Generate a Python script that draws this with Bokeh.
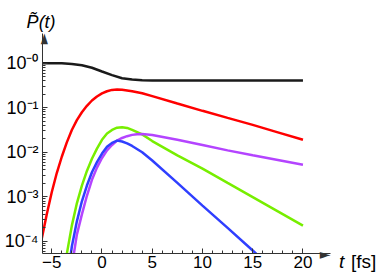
import math
from bokeh.plotting import figure
from bokeh.models import Range1d, FixedTicker, CustomJSTickFormatter, Label
from bokeh.embed import file_html
from bokeh.resources import INLINE

# ---- data (t in fs, P~(t) values) ----
t_black = [-6, -5, -4, -3, -2, -1, 0, 1, 2, 3, 4, 5, 6, 8, 10, 12, 14, 16, 18, 20]
p_black = [1.0, 1.0, 0.99, 0.96, 0.9, 0.79, 0.65, 0.54, 0.46, 0.43, 0.415, 0.41,
           0.41, 0.41, 0.41, 0.41, 0.41, 0.41, 0.41, 0.41]

t_red = [-6, -5.5, -5, -4.5, -4, -3.5, -3, -2.5, -2, -1.5, -1, -0.5, 0, 0.5, 1, 1.5,
         2, 3, 4, 5, 7.5, 10, 12.5, 15, 17.5, 20]
p_red = [1.12e-4, 4.0e-4, 1.26e-3, 3.4e-3, 7.9e-3, 0.0166, 0.0316, 0.0525, 0.079,
         0.11, 0.145, 0.178, 0.209, 0.234, 0.251, 0.257, 0.254, 0.234, 0.211, 0.182,
         0.124, 0.085, 0.059, 0.041, 0.0279, 0.019]

t_green = [-3.6, -3.5, -3, -2.5, -2, -1.5, -1, -0.5, 0, 0.5, 1, 1.5, 2, 2.5, 3, 4, 5,
           7.5, 10, 12.5, 15, 17.5, 20]
p_green = [4.0e-5, 5.2e-5, 2.24e-4, 7.1e-4, 1.78e-3, 3.8e-3, 7.1e-3, 0.012, 0.019,
           0.0263, 0.0316, 0.0355, 0.0363, 0.0351, 0.0316, 0.0251, 0.0178, 8.5e-3,
           4.27e-3, 2.04e-3, 9.8e-4, 4.7e-4, 2.24e-4]

t_blue = [-3.3, -3.1, -3, -2.5, -2, -1.5, -1, -0.5, 0, 0.5, 1, 1.5, 2, 2.5, 3, 4, 5,
          7.5, 10, 12.5, 15, 16]
p_blue = [4.0e-5, 5.2e-5, 7.6e-5, 2.8e-4, 7.9e-4, 1.78e-3, 3.55e-3, 6.0e-3, 9.3e-3,
          0.0132, 0.0162, 0.0182, 0.0174, 0.0158, 0.0138, 0.01, 6.5e-3, 2.04e-3,
          6.3e-4, 2.0e-4, 6.2e-5, 3.8e-5]

t_purple = [-2.9, -2.8, -2.5, -2, -1.5, -1, -0.5, 0, 0.5, 1, 1.5, 2, 2.5, 3, 3.5, 4, 5,
            7.5, 10, 12.5, 15, 17.5, 20]
p_purple = [4.0e-5, 5.2e-5, 1.41e-4, 4.0e-4, 1.05e-3, 2.4e-3, 4.5e-3, 7.4e-3, 0.011,
            0.0145, 0.0182, 0.0209, 0.0229, 0.0245, 0.0254, 0.0257, 0.0243, 0.019,
            0.0145, 0.011, 8.5e-3, 6.7e-3, 5.2e-3]

x_ticks = [-5, 0, 5, 10, 15, 20]
x_minor = list(range(-5, 21))
y_ticks = [1e-4, 1e-3, 1e-2, 1e-1, 1.0]

X0, X1 = -5.92, 22.74
Y0, Y1 = 5.3e-5, 4.64

y_minor = [k * 10.0 ** e for e in range(-5, 0) for k in range(2, 10) if Y0 <= k * 10.0 ** e <= 1.0]

AX = "#333333"
FONT = "Liberation Sans"

p = figure(width=381, height=277, y_axis_type="log",
           x_range=Range1d(X0, X1), y_range=Range1d(Y0, Y1),
           output_backend="svg", toolbar_location=None,
           min_border_left=42, min_border_right=51, min_border_top=33, min_border_bottom=24)
p.title.visible = False
p.xgrid.visible = False
p.ygrid.visible = False
p.outline_line_color = None
p.background_fill_color = "white"
p.border_fill_color = "white"

p.xaxis.ticker = FixedTicker(ticks=x_ticks, minor_ticks=x_minor)
p.yaxis.ticker = FixedTicker(ticks=y_ticks, minor_ticks=y_minor)
p.xaxis.formatter = CustomJSTickFormatter(code="""
return tick < 0 ? "\\u2212" + Math.abs(tick) : String(tick);
""")
p.yaxis.formatter = CustomJSTickFormatter(code="""
const m = {"0":"\\u2070","1":"\\u00b9","2":"\\u00b2","3":"\\u00b3","4":"\\u2074","5":"\\u2075"};
const e = Math.round(Math.log10(tick));
return "10\\u207b" + m[String(Math.abs(e))];
""")

for ax in p.xaxis + p.yaxis:
    ax.major_tick_in = 5
    ax.major_tick_out = 0
    ax.minor_tick_in = 3
    ax.minor_tick_out = 0
    ax.axis_line_color = AX
    ax.major_tick_line_color = AX
    ax.minor_tick_line_color = AX
    ax.major_label_text_font = FONT
    ax.major_label_text_color = "black"
p.xaxis.major_label_text_font_size = "17px"
p.yaxis.major_label_text_font_size = "18px"
p.xaxis.major_label_standoff = 2
p.yaxis.major_label_standoff = 4

p.line(t_black, p_black, line_color="#1a1a1a", line_width=2.5)
p.line(t_red, p_red, line_color="#ff0000", line_width=2.5)
p.line(t_green, p_green, line_color="#77ee00", line_width=2.5)
p.line(t_purple, p_purple, line_color="#b444ff", line_width=2.5)
p.line(t_blue, p_blue, line_color="#2f3fff", line_width=2.5)

# labels and arrow heads live in side panels so that they are not clipped to the frame
p.add_layout(Label(x=-7.5, y=8.2, text="P\u0303(t)", text_font=FONT,
                   text_font_style="italic", text_font_size="18px",
                   text_baseline="alphabetic", text_color="black"), "above")
p.add_layout(Label(x=X0, y=Y1, text="\u25ba", text_font="DejaVu Sans",
                   text_font_size="14px", angle=math.pi / 2,
                   text_align="right", text_baseline="middle", text_color=AX), "above")
p.add_layout(Label(x=X1, y=Y0, text="\u25ba", text_font="DejaVu Sans",
                   text_font_size="14px",
                   text_align="right", text_baseline="middle", text_color=AX), "right")
p.add_layout(Label(x=23.58, y=3.59e-5, text="t", text_font=FONT,
                   text_font_style="italic", text_font_size="19px",
                   text_baseline="alphabetic", text_color="black"), "right")
p.add_layout(Label(x=24.78, y=3.59e-5, text="[fs]", text_font=FONT,
                   text_font_size="19px",
                   text_baseline="alphabetic", text_color="black"), "right")

open("out.html", "w").write(file_html(p, INLINE))
